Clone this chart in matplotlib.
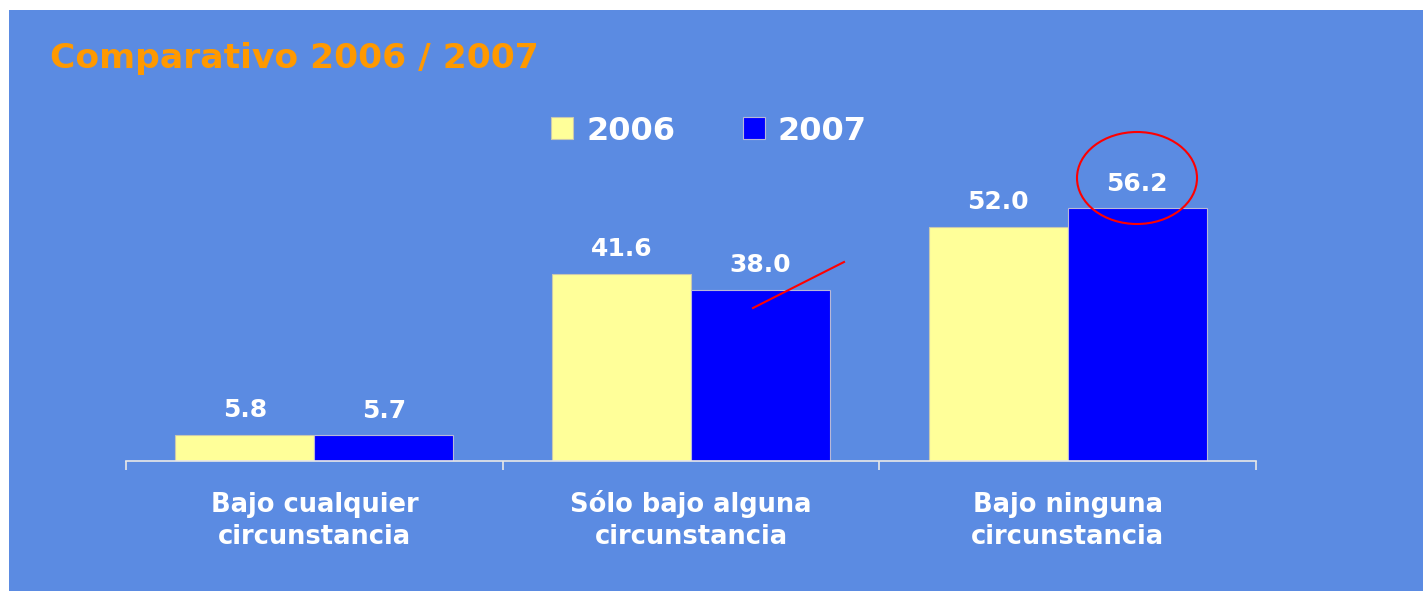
import matplotlib
matplotlib.use("Agg")
import matplotlib.pyplot as plt
import numpy as np
from matplotlib.patches import Rectangle, Ellipse
from matplotlib.lines import Line2D

# datos
categorias = ["Bajo cualquier\ncircunstancia", "Sólo bajo alguna\ncircunstancia", "Bajo ninguna\ncircunstancia"]
anios = ["2006", "2007"]
valores_2006 = [5.8, 41.6, 52.0]
valores_2007 = [5.7, 38.0, 56.2]

fondo = "#5B8BE2"
amarillo = "#FFFF99"
azul = "#0000FF"
W, H = 1427, 598

plt.rcParams["font.family"] = ["DejaVu Sans"]
fig = plt.figure(figsize=(W / 100, H / 100), dpi=100, facecolor="white")

# panel azul con marco blanco
fig.patches.append(Rectangle((9 / W, 7 / H), 1414 / W, 581 / H, transform=fig.transFigure,
                             facecolor=fondo, edgecolor="none", zorder=-5))

ax = fig.add_axes([126 / W, 137 / H, 1130 / W, 311 / H])
ax.set_facecolor("none")

x = np.arange(len(categorias))
ancho = 0.369
b1 = ax.bar(x - ancho / 2, valores_2006, ancho, color=amarillo, edgecolor="#C8C8B0", linewidth=0.8, label=anios[0])
b2 = ax.bar(x + ancho / 2, valores_2007, ancho, color=azul, edgecolor="#B8B8D8", linewidth=0.8, label=anios[1])

for barras in (b1, b2):
    ax.bar_label(barras, fmt="%.1f", padding=9, color="white", fontsize=18, fontweight="bold")

ax.set_xlim(-0.5, 2.5)
ax.set_ylim(0, 69.1)
for s in ["top", "right", "left"]:
    ax.spines[s].set_visible(False)
ax.spines["bottom"].set_color("#E8E8E8")
ax.spines["bottom"].set_linewidth(1.2)
ax.set_yticks([])
ax.set_xticks([-0.5, 0.5, 1.5, 2.5])
ax.set_xticklabels([])
ax.tick_params(axis="x", which="major", direction="out", length=6.5, width=1.2, color="#E8E8E8")

# etiquetas de categoria (alineadas por la linea base)
for xi, cat in zip(x, categorias):
    ax.annotate(cat, xy=(xi, 0), xycoords=("data", "axes fraction"), xytext=(0, -60),
                textcoords="offset points", ha="center", va="baseline", color="white",
                fontsize=18.5, fontweight="bold", linespacing=1.32, multialignment="center")

# leyenda
ax.legend(loc="center", bbox_to_anchor=(709 / W, 1 - 131 / H), bbox_transform=fig.transFigure,
          ncol=2, frameon=False, handlelength=0.69, handleheight=0.69,
          handletextpad=0.41, columnspacing=2.1, labelcolor="white",
          prop={"weight": "bold", "size": 23})

# titulo
fig.text(50 / W, 1 - 68 / H, "Comparativo 2006 / 2007", color="#FF9900", fontsize=24.8,
         fontweight="bold", va="baseline", ha="left")

# marcas rojas
fig.patches.append(Ellipse((1137 / W, 1 - 178 / H), 120 / W, 92 / H, transform=fig.transFigure,
                           facecolor="none", edgecolor="#FF0000", linewidth=1.5, zorder=5))
fig.lines.append(Line2D([753 / W, 844 / W], [1 - 308 / H, 1 - 262 / H], transform=fig.transFigure,
                        color="#FF0000", linewidth=1.5, zorder=5))

fig.savefig("out.png", dpi=100, facecolor="white")
